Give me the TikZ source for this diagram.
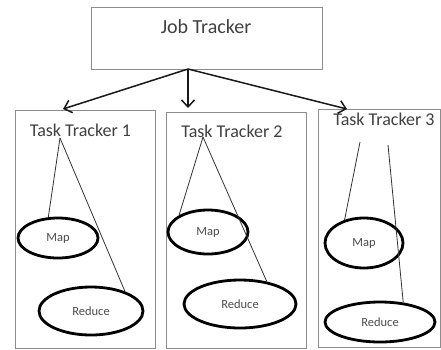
\documentclass[tikz,border=0pt]{standalone}
\usepackage{fontspec}
\setmainfont{Carlito}
\usetikzlibrary{shapes.geometric,arrows.meta}
\begin{document}
\begin{tikzpicture}[x=1pt,y=-1pt,
  box/.style={draw=black!45,line width=0.9pt,rectangle,inner sep=0pt},
  title/.style={text=black!75,font=\fontsize{18}{18}\selectfont,inner sep=0pt},
  oval/.style={draw=black,line width=2.8pt,ellipse,inner sep=0pt,text=black!70,font=\fontsize{12.5}{13}\selectfont},
  cone/.style={draw=black!80,line width=0.8pt},
  link/.style={draw=black!90,line width=1.5pt,-{Straight Barb[length=7pt,width=13pt,line width=1.5pt]}}]
\useasboundingbox (0,0) rectangle (441,349);
\fill[white] (0,0) rectangle (441,349);
% Job tracker
\node[box,minimum width=231pt,minimum height=62pt] (jt) at (206.5,38) {};
\node[title,font=\fontsize{20}{20}\selectfont] (jtt) at (206,27) {Job Tracker};
% task tracker boxes
\node[box,minimum width=140pt,minimum height=238pt] (b1) at (85,229) {};
\node[box,minimum width=140pt,minimum height=236pt] (b2) at (236,230) {};
\node[box,minimum width=122pt,minimum height=238pt] (b3) at (379,228) {};
\node[title] (t1) at (80.5,130) {Task Tracker 1};
\node[title] (t2) at (232,131) {Task Tracker 2};
\node[title] (t3) at (384,119) {Task Tracker 3};
% arrows
\coordinate (src) at (188,69);
\coordinate (e1) at (63,109);
\coordinate (e2) at (188,108);
\coordinate (e3) at (347,109);
\draw[link] (src) -- (e1);
\draw[link] (src) -- (e2);
\draw[link] (src) -- (e3);
% ellipses
\node[oval,minimum width=80pt,minimum height=40pt] (m1) at (58,238) {Map};
\node[oval,minimum width=104pt,minimum height=48pt] (r1) at (91,311) {Reduce};
\node[oval,minimum width=80pt,minimum height=44pt] (m2) at (208,232) {Map};
\node[oval,minimum width=112pt,minimum height=48pt] (r2) at (240,304) {Reduce};
\node[oval,minimum width=78pt,minimum height=50pt] (m3) at (364,243) {Map};
\node[oval,minimum width=110pt,minimum height=40pt] (r3) at (380,322) {Reduce};
% cones
\coordinate (a1) at (60,138);
\coordinate (a2) at (203,137);
\coordinate (a3l) at (360,142);
\coordinate (a3r) at (388,145);
\draw[cone] (a1) -- (m1.115);
\draw[cone] (a1) -- (r1.30);
\draw[cone] (a2) -- (m2.150);
\draw[cone] (a2) -- (r2.40);
\draw[cone] (a3l) -- (m3.130);
\draw[cone] (a3r) -- (r3.40);
\end{tikzpicture}
\end{document}
